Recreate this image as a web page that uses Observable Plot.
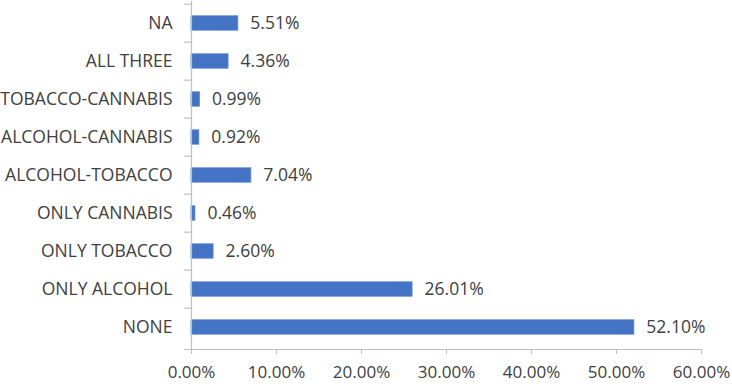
<!DOCTYPE html>
<html>
<head>
<meta charset="utf-8">
<script src="https://cdn.jsdelivr.net/npm/d3@7"></script>
<script src="https://cdn.jsdelivr.net/npm/@observablehq/plot@0.6"></script>
<style>
  html, body { margin: 0; padding: 0; background: #fff; }
  #chart svg { display: block; }
</style>
</head>
<body>
<div id="chart"></div>
<script>
const categories = ["NA", "ALL THREE", "TOBACCO-CANNABIS", "ALCOHOL-CANNABIS", "ALCOHOL-TOBACCO", "ONLY CANNABIS", "ONLY TOBACCO", "ONLY ALCOHOL", "NONE"];
const values = [5.51, 4.36, 0.99, 0.92, 7.04, 0.46, 2.60, 26.01, 52.10];
const xTicks = [0, 10, 20, 30, 40, 50, 60];

const data = categories.map((c, i) => ({category: c, value: values[i]}));

const W = 732, H = 387;
const mT = 1, mB = 38, mL = 191, mR = 31;
const step = (H - mT - mB) / categories.length;
const axisColor = "#bfbfbf";
const textColor = "#404040";
const fontFamily = "'Open Sans', sans-serif";
const fmt = d => d.toFixed(2) + "%";

const chart = Plot.plot({
  width: W,
  height: H,
  marginTop: mT,
  marginBottom: mB,
  marginLeft: mL,
  marginRight: mR,
  style: {fontFamily, fontSize: "17.5px", color: textColor, background: "#fff"},
  x: {domain: [0, 60]},
  y: {domain: categories, padding: 0},
  marks: [
    Plot.barX(data, {x: "value", y: "category", fill: "#4472C4", stroke: "#5b86d0", strokeWidth: 0.8, insetTop: 11.8, insetBottom: 11.8}),
    Plot.ruleX([0], {stroke: axisColor, strokeWidth: 1.2}),
    Plot.frame({anchor: "bottom", stroke: axisColor, strokeWidth: 1.2, insetLeft: -7}),
    Plot.ruleY(categories, {y: d => d, dy: -step / 2, x1: 0, x2: 0, insetLeft: -7, stroke: axisColor, strokeWidth: 1.2}),
    Plot.axisX({ticks: xTicks, tickFormat: fmt, tickSize: 5, tickPadding: 11, stroke: axisColor, fill: textColor, fontSize: 17, label: null}),
    Plot.axisY({tickSize: 0, tickPadding: 19, fill: textColor, fontSize: 17.5, label: null}),
    Plot.text(data, {x: "value", y: "category", text: d => fmt(d.value), dx: 12, textAnchor: "start", fill: textColor, fontSize: 17.5})
  ]
});
document.getElementById("chart").appendChild(chart);
</script>
</body>
</html>
